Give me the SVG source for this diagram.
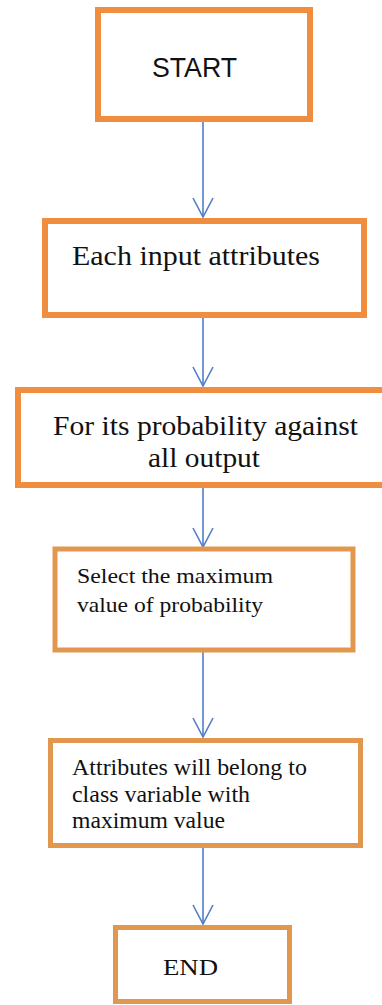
<svg xmlns="http://www.w3.org/2000/svg" width="382" height="1005" viewBox="0 0 382 1005">
<defs>
<marker id="arr" viewBox="0 0 22 24" refX="21" refY="12" markerWidth="22" markerHeight="24" markerUnits="userSpaceOnUse" orient="auto">
<path d="M2,2 L21,12 L2,22" fill="none" stroke="#4F7FC8" stroke-width="1.6"/>
</marker>
</defs>
<style>
.box{fill:#ffffff;stroke:#F08D3E;stroke-width:6}
.box2{fill:#ffffff;stroke:#E2974F;stroke-width:5}
.conn{stroke:#4F7FC8;stroke-width:1.6;fill:none;marker-end:url(#arr)}
text{fill:#111}
</style>
<rect width="382" height="1005" fill="#ffffff"/>
<g id="connectors">
<line class="conn" x1="203" y1="122" x2="203" y2="217"/>
<line class="conn" x1="203" y1="318" x2="203" y2="386"/>
<line class="conn" x1="203" y1="488" x2="203" y2="547"/>
<line class="conn" x1="203" y1="652" x2="203" y2="737"/>
<line class="conn" x1="203" y1="848" x2="203" y2="924"/>
</g>
<g id="start">
<rect class="box" x="98" y="10" width="212" height="109"/>
<text font-family="Liberation Sans, DejaVu Sans, sans-serif" x="152" y="77" font-size="28" textLength="85" lengthAdjust="spacingAndGlyphs">START</text>
</g>
<g id="each-input">
<rect class="box" x="45" y="221" width="319" height="94"/>
<text font-family="Liberation Serif, DejaVu Serif, serif" x="72" y="265" font-size="27" textLength="248" lengthAdjust="spacingAndGlyphs">Each input attributes</text>
</g>
<g id="probability">
<rect class="box" x="18" y="390" width="370" height="95"/>
<text font-family="Liberation Serif, DejaVu Serif, serif" x="53" y="435" font-size="27" textLength="305" lengthAdjust="spacingAndGlyphs">For its probability against</text>
<text font-family="Liberation Serif, DejaVu Serif, serif" x="148" y="467" font-size="27" textLength="112" lengthAdjust="spacingAndGlyphs">all output</text>
</g>
<g id="select-max">
<rect class="box2" x="55" y="549" width="298" height="101" stroke-width="4"/>
<text font-family="Liberation Serif, DejaVu Serif, serif" x="77" y="583" font-size="22" textLength="196" lengthAdjust="spacingAndGlyphs">Select the maximum</text>
<text font-family="Liberation Serif, DejaVu Serif, serif" x="77" y="612" font-size="22" textLength="186" lengthAdjust="spacingAndGlyphs">value of probability</text>
</g>
<g id="belong">
<rect class="box2" x="50.5" y="740.5" width="310" height="105"/>
<text font-family="Liberation Serif, DejaVu Serif, serif" x="72" y="775" font-size="23" textLength="235" lengthAdjust="spacingAndGlyphs">Attributes will belong to</text>
<text font-family="Liberation Serif, DejaVu Serif, serif" x="72" y="802" font-size="23" textLength="178" lengthAdjust="spacingAndGlyphs">class variable with</text>
<text font-family="Liberation Serif, DejaVu Serif, serif" x="72" y="828" font-size="23" textLength="153" lengthAdjust="spacingAndGlyphs">maximum value</text>
</g>
<g id="end">
<rect class="box2" x="115.5" y="927.5" width="174" height="74"/>
<text font-family="Liberation Serif, DejaVu Serif, serif" x="163" y="975" font-size="23" textLength="55" lengthAdjust="spacingAndGlyphs">END</text>
</g>
</svg>
